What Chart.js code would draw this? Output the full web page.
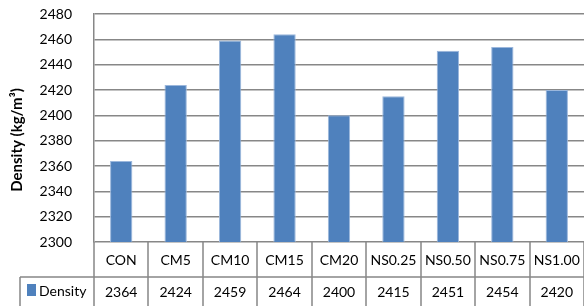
<!DOCTYPE html>
<html>
<head>
<meta charset="utf-8">
<script src="https://cdn.jsdelivr.net/npm/chart.js@4/dist/chart.umd.min.js"></script>
<style>
  html, body { margin: 0; padding: 0; background: #fff; }
  #wrap { width: 584px; height: 306px; }
</style>
</head>
<body>
<div id="wrap"><canvas id="myChart" width="584" height="306"></canvas></div>
<script>
var categorias = ['CON', 'CM5', 'CM10', 'CM15', 'CM20', 'NS0.25', 'NS0.50', 'NS0.75', 'NS1.00'];
var densidad = [2364, 2424, 2459, 2464, 2400, 2415, 2451, 2454, 2420];
var serieNombre = 'Density';
var tituloY = 'Density (kg/m³)';
var yMin = 2300, yMax = 2480, yPaso = 20;

var fuente = 'Lato, "Liberation Sans", sans-serif';
var gris = '#878787';

// tabla de datos debajo del eje x, como en Excel
const tablaDatos = {
    id: 'tablaDatos',
    afterDraw(chart) {
        const ctx = chart.ctx;
        const x = chart.scales.x;
        const area = chart.chartArea;
        const ancho = x.width / categorias.length;
        const filaY = area.bottom + 35;
        const abajo = chart.height;
        const izq = 20;

        ctx.save();
        ctx.strokeStyle = gris;
        ctx.lineWidth = 1.5;
        ctx.beginPath();
        for (let i = 0; i <= categorias.length; i++) {
            const px = Math.round(x.left + i * ancho);
            ctx.moveTo(px, area.bottom);
            ctx.lineTo(px, abajo);
        }
        ctx.moveTo(izq, filaY);
        ctx.lineTo(area.right, filaY);
        ctx.moveTo(izq, filaY);
        ctx.lineTo(izq, abajo);
        ctx.stroke();

        ctx.fillStyle = '#000';
        ctx.font = '14px ' + fuente;
        ctx.textAlign = 'center';
        ctx.textBaseline = 'middle';
        categorias.forEach(function(c, i) {
            const cx = x.getPixelForValue(i);
            ctx.fillText(c, cx, area.bottom + 18);
            ctx.fillText(String(densidad[i]), cx, filaY + 15);
        });

        ctx.fillStyle = '#4f81bd';
        ctx.fillRect(27, filaY + 7, 9, 12);
        ctx.fillStyle = '#000';
        ctx.textAlign = 'left';
        ctx.fillText(serieNombre, 39, filaY + 14);

        // titulo del eje y
        ctx.translate(17, 140);
        ctx.rotate(-Math.PI / 2);
        ctx.font = 'bold 15px ' + fuente;
        ctx.textAlign = 'center';
        ctx.fillText(tituloY, 0, 0);
        ctx.restore();
    }
};

const ctx = document.getElementById('myChart');

new Chart(ctx, {
    type: 'bar',
    data: {
        labels: categorias,
        datasets: [{
            label: serieNombre,
            data: densidad,
            backgroundColor: '#4f81bd',
            borderColor: '#9bb7dc',
            borderWidth: 1,
            barPercentage: 0.41,
            categoryPercentage: 1
        }]
    },
    options: {
        responsive: false,
        animation: false,
        layout: { padding: { top: 14, right: 0, left: 0, bottom: 0 } },
        plugins: {
            legend: { display: false },
            tooltip: { enabled: false }
        },
        scales: {
            x: {
                grid: { display: false },
                border: { display: false },
                ticks: { display: false },
                afterFit: function(scale) { scale.height = 64; }
            },
            y: {
                min: yMin,
                max: yMax,
                ticks: {
                    stepSize: yPaso,
                    padding: 22,
                    color: '#000',
                    font: { family: fuente, size: 14 },
                    callback: function(v) { return String(v); }
                },
                grid: { color: gris, lineWidth: 1.5, drawTicks: false },
                border: { color: gris, width: 1.5 },
                afterFit: function(scale) {
                    scale.width = 94;
                    scale.paddingTop = 0;
                    scale.paddingBottom = 0;
                }
            }
        }
    },
    plugins: [tablaDatos]
});
</script>
</body>
</html>
